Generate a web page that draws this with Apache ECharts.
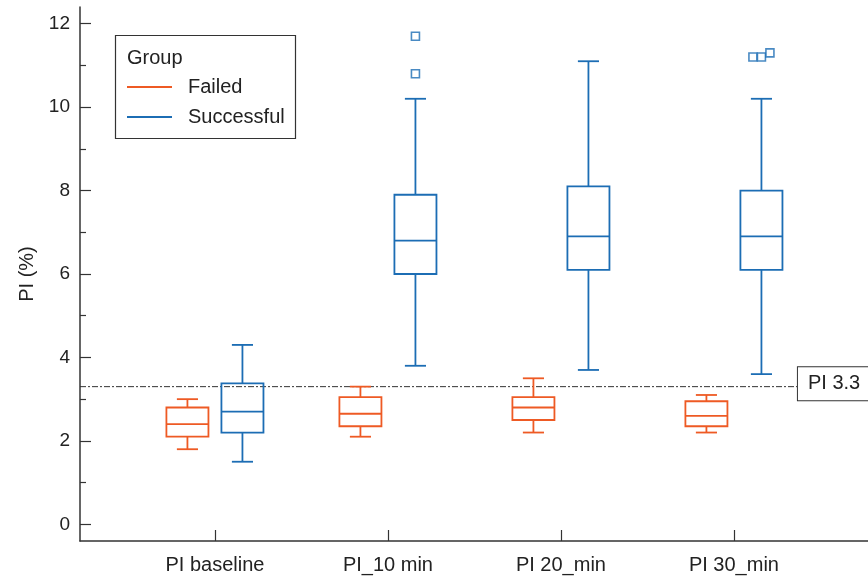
<!DOCTYPE html>
<html>
<head>
<meta charset="utf-8">
<script src="https://cdn.jsdelivr.net/npm/echarts@6/dist/echarts.min.js"></script>
<style>
html,body{margin:0;padding:0;background:#fff;}
#chart{width:868px;height:579px;}
</style>
</head>
<body>
<div id="chart"></div>
<script>
// ---------- DATA ----------
const categories = ['PI baseline', 'PI_10 min', 'PI 20_min', 'PI 30_min'];
const groups = ['Failed', 'Successful'];
// [min, Q1, median, Q3, max] per category
const failedBoxes = [
  [1.8, 2.1, 2.4, 2.8, 3.0],
  [2.1, 2.35, 2.65, 3.05, 3.3],
  [2.2, 2.5, 2.8, 3.05, 3.5],
  [2.2, 2.35, 2.6, 2.95, 3.1]
];
const successfulBoxes = [
  [1.5, 2.2, 2.7, 3.38, 4.3],
  [3.8, 6.0, 6.8, 7.9, 10.2],
  [3.7, 6.1, 6.9, 8.1, 11.1],
  [3.6, 6.1, 6.9, 8.0, 10.2]
];
// outliers: [categoryIndex, value]
const successfulOutliers = [
  [1, 11.7], [1, 10.8],
  [3, 11.2], [3, 11.2], [3, 11.3]
];
const failedOutliers = [];
const thresholdValue = 3.3;
const thresholdLabel = 'PI 3.3';
const yTickValues = [0, 2, 4, 6, 8, 10, 12];
const yMinorTickValues = [1, 3, 5, 7, 9, 11];
const yAxisName = 'PI (%)';
const legendTitle = 'Group';

// ---------- STYLE / LAYOUT ----------
const ORANGE = '#EE5A24';
const BLUE = '#1C6DB4';
const FONT = '"Liberation Sans", Arial, Helvetica, sans-serif';
const TXT = '#222';
const groupOffset = [-0.159, 0.159];   // category units
const boxHalf = 0.1215;                // category units
const capHalf = 0.061;
const lineEndX = 3.37;                 // where reference line ends (x-axis units)

function makeRender(off, color) {
  return function (params, api) {
    const x = api.value(0);
    const unit = api.size([1, 0])[0];
    const cx = api.coord([x, 0])[0] + off * unit;
    const yMin = api.coord([x, api.value(1)])[1];
    const yQ1 = api.coord([x, api.value(2)])[1];
    const yMed = api.coord([x, api.value(3)])[1];
    const yQ3 = api.coord([x, api.value(4)])[1];
    const yMax = api.coord([x, api.value(5)])[1];
    const hw = boxHalf * unit, cw = capHalf * unit;
    const st = { stroke: color, lineWidth: 1.8, fill: null };
    return {
      type: 'group',
      children: [
        { type: 'rect', shape: { x: cx - hw, y: yQ3, width: 2 * hw, height: yQ1 - yQ3 }, style: Object.assign({}, st, { fill: 'rgba(0,0,0,0)' }) },
        { type: 'line', shape: { x1: cx - hw, y1: yMed, x2: cx + hw, y2: yMed }, style: st },
        { type: 'line', shape: { x1: cx, y1: yQ3, x2: cx, y2: yMax }, style: st },
        { type: 'line', shape: { x1: cx, y1: yQ1, x2: cx, y2: yMin }, style: st },
        { type: 'line', shape: { x1: cx - cw, y1: yMax, x2: cx + cw, y2: yMax }, style: st },
        { type: 'line', shape: { x1: cx - cw, y1: yMin, x2: cx + cw, y2: yMin }, style: st }
      ]
    };
  };
}

function boxData(boxes) {
  return boxes.map((b, i) => [i].concat(b));
}

// dodge overlapping outliers horizontally (pixel offsets)
function outlierData(list, gi) {
  const out = [];
  const byCat = {};
  list.forEach(p => { (byCat[p[0]] = byCat[p[0]] || []).push(p[1]); });
  Object.keys(byCat).forEach(k => {
    const vals = byCat[k].slice().sort((a, b) => a - b);
    let cluster = [];
    const flush = () => {
      const n = cluster.length;
      cluster.forEach((v, i) => {
        out.push({ value: [Number(k) + groupOffset[gi], v], symbolOffset: [(i - (n - 1) / 2) * 8.5, 0] });
      });
      cluster = [];
    };
    vals.forEach(v => {
      if (cluster.length && v - cluster[cluster.length - 1] > 0.2) flush();
      cluster.push(v);
    });
    flush();
  });
  return out;
}

const chart = echarts.init(document.getElementById('chart'), null, { renderer: 'canvas' });
const xMin = -0.78, xMax = 3.775;

chart.setOption({
  backgroundColor: '#fff',
  animation: false,
  textStyle: { fontFamily: FONT },
  grid: { left: 80, right: 0, top: 7, bottom: 38, containLabel: false },
  xAxis: {
    type: 'value', min: xMin, max: xMax,
    splitLine: { show: false },
    axisLine: { show: true, onZero: false, lineStyle: { color: '#333', width: 1.5 } },
    axisTick: { show: true, inside: true, length: 11, customValues: [0, 1, 2, 3], lineStyle: { color: '#333', width: 1.2 } },
    axisLabel: { customValues: [0, 1, 2, 3], formatter: v => categories[Math.round(v)], fontSize: 20, color: TXT, margin: 14, fontFamily: FONT }
  },
  yAxis: [{
    type: 'value', min: -0.4, max: 12.4, position: 'left',
    name: yAxisName, nameLocation: 'middle', nameGap: 42, nameRotate: 90,
    nameTextStyle: { fontSize: 20, color: TXT, fontFamily: FONT },
    splitLine: { show: false },
    axisLine: { show: true, onZero: false, lineStyle: { color: '#333', width: 1.5 } },
    axisTick: { show: true, inside: true, length: 11, customValues: yTickValues, lineStyle: { color: '#333', width: 1.2 } },
    axisLabel: { customValues: yTickValues, fontSize: 19, color: TXT, margin: 10, fontFamily: FONT }
  }, {
    type: 'value', min: -0.4, max: 12.4, position: 'left',
    splitLine: { show: false },
    axisLine: { show: false, onZero: false },
    axisTick: { show: true, inside: true, length: 6, customValues: yMinorTickValues, lineStyle: { color: '#333', width: 1.2 } },
    axisLabel: { show: false }
  }],
  legend: {
    orient: 'vertical', left: 127, top: 77, padding: 0,
    itemWidth: 45, itemHeight: 2, itemGap: 10, icon: 'rect',
    textStyle: { fontSize: 20, color: TXT, lineHeight: 20, fontFamily: FONT, padding: [0, 0, 0, 11] },
    data: groups,
    selectedMode: false
  },
  graphic: [
    { type: 'rect', shape: { x: 115.5, y: 35.5, width: 180, height: 103 }, style: { fill: 'none', stroke: '#333', lineWidth: 1.2 }, z: 100 },
    { type: 'text', x: 127, y: 58, style: { text: legendTitle, font: '20px ' + FONT, fill: TXT, textVerticalAlign: 'middle' }, z: 100 }
  ],
  series: [
    {
      name: groups[0], type: 'custom', renderItem: makeRender(groupOffset[0], ORANGE),
      itemStyle: { color: ORANGE }, encode: { x: 0, y: [1, 2, 3, 4, 5] },
      data: boxData(failedBoxes), clip: false
    },
    {
      name: groups[1], type: 'custom', renderItem: makeRender(groupOffset[1], BLUE),
      itemStyle: { color: BLUE }, encode: { x: 0, y: [1, 2, 3, 4, 5] },
      data: boxData(successfulBoxes), clip: false
    },
    {
      name: groups[1] + ' outliers', type: 'scatter', symbol: 'rect', symbolSize: 8,
      itemStyle: { color: '#fff', borderColor: BLUE, borderWidth: 1.6 },
      data: outlierData(successfulOutliers, 1), clip: false
    },
    {
      name: groups[0] + ' outliers', type: 'scatter', symbol: 'rect', symbolSize: 8,
      itemStyle: { color: '#fff', borderColor: ORANGE, borderWidth: 1.6 },
      data: outlierData(failedOutliers, 0)
    },
    {
      name: thresholdLabel, type: 'line', showSymbol: false, symbol: 'none', silent: true,
      clip: false, z: 1,
      lineStyle: { color: '#333', width: 1, type: [6, 2, 2, 2] },
      data: [[xMin, thresholdValue], [lineEndX, thresholdValue]],
      endLabel: {
        show: true, formatter: thresholdLabel, distance: 0, offset: [0, -3],
        fontSize: 20, color: TXT, fontFamily: FONT, backgroundColor: '#fff',
        borderColor: '#333', borderWidth: 1, padding: [7, 24, 6, 10]
      }
    }
  ]
});
</script>
</body>
</html>
